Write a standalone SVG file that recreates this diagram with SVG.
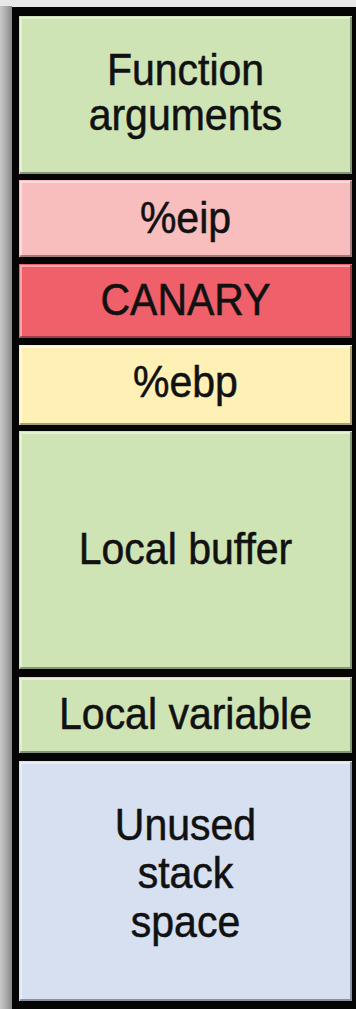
<svg xmlns="http://www.w3.org/2000/svg" width="356" height="1009" viewBox="0 0 356 1009">
  <defs>
    <linearGradient id="sideShade" x1="0" y1="0" x2="1" y2="0">
      <stop offset="0" stop-color="#c8c8c8"/>
      <stop offset="0.5" stop-color="#acacac"/>
      <stop offset="1" stop-color="#888888"/>
    </linearGradient>
  </defs>
  <style>
    .label { font-family: "Liberation Sans", Arial, Helvetica, sans-serif; font-size: 41px; fill: #111111; stroke: #111111; stroke-width: 0.5; text-anchor: middle; }
    .hl { fill: none; stroke: #ffffff; stroke-opacity: 0.45; stroke-width: 2; }
    .sh { fill: none; stroke: #000000; stroke-opacity: 0.35; stroke-width: 2; }
    .green { fill: #cfe4b4; }
    .pink { fill: #f8bdbd; }
    .red { fill: #f0606b; }
    .yellow { fill: #fff0b6; }
    .blue { fill: #d6e0f1; }
  </style>

  <!-- page background and drop shadow on the left -->
  <rect x="0" y="0" width="356" height="1009" fill="#e8e8e8"/>
  <rect x="0" y="6" width="12" height="1003" fill="url(#sideShade)"/>

  <!-- black stack frame -->
  <rect x="12" y="7" width="344" height="1002" fill="#050505"/>

  <!-- stack slots, top (high addresses) to bottom -->
  <g id="function-arguments">
    <rect class="green" x="19" y="16" width="333" height="158"/>
    <path class="hl" d="M21 173 V18 H350"/>
    <path class="sh" d="M20 173 H351 V17"/>
    <text class="label" transform="translate(185.5 85) scale(1 1.09)">Function</text>
    <text class="label" transform="translate(185.5 130) scale(1 1.09)">arguments</text>
  </g>

  <g id="eip">
    <rect class="pink" x="19" y="180" width="333" height="77"/>
    <path class="hl" d="M21 256 V182 H350"/>
    <path class="sh" d="M20 256 H351 V181"/>
    <text class="label" transform="translate(185.5 233) scale(1 1.09)">%eip</text>
  </g>

  <g id="canary">
    <rect class="red" x="19" y="264" width="333" height="74"/>
    <path class="hl" d="M21 337 V266 H350"/>
    <path class="sh" d="M20 337 H351 V265"/>
    <text class="label" transform="translate(185.5 315) scale(1 1.09)">CANARY</text>
  </g>

  <g id="ebp">
    <rect class="yellow" x="19" y="345" width="333" height="80"/>
    <path class="hl" d="M21 424 V347 H350"/>
    <path class="sh" d="M20 424 H351 V346"/>
    <text class="label" transform="translate(185.5 397) scale(1 1.09)">%ebp</text>
  </g>

  <g id="local-buffer">
    <rect class="green" x="19" y="431" width="333" height="238"/>
    <path class="hl" d="M21 668 V433 H350"/>
    <path class="sh" d="M20 668 H351 V432"/>
    <text class="label" transform="translate(185.5 564) scale(1 1.09)">Local buffer</text>
  </g>

  <g id="local-variable">
    <rect class="green" x="19" y="677" width="333" height="76"/>
    <path class="hl" d="M21 752 V679 H350"/>
    <path class="sh" d="M20 752 H351 V678"/>
    <text class="label" transform="translate(185.5 729) scale(1 1.09)">Local variable</text>
  </g>

  <g id="unused-stack-space">
    <rect class="blue" x="19" y="761" width="333" height="240"/>
    <path class="hl" d="M21 1000 V763 H350"/>
    <path class="sh" d="M20 1000 H351 V762"/>
    <text class="label" transform="translate(185.5 840) scale(1 1.09)">Unused</text>
    <text class="label" transform="translate(185.5 888) scale(1 1.09)">stack</text>
    <text class="label" transform="translate(185.5 937) scale(1 1.09)">space</text>
  </g>
</svg>
